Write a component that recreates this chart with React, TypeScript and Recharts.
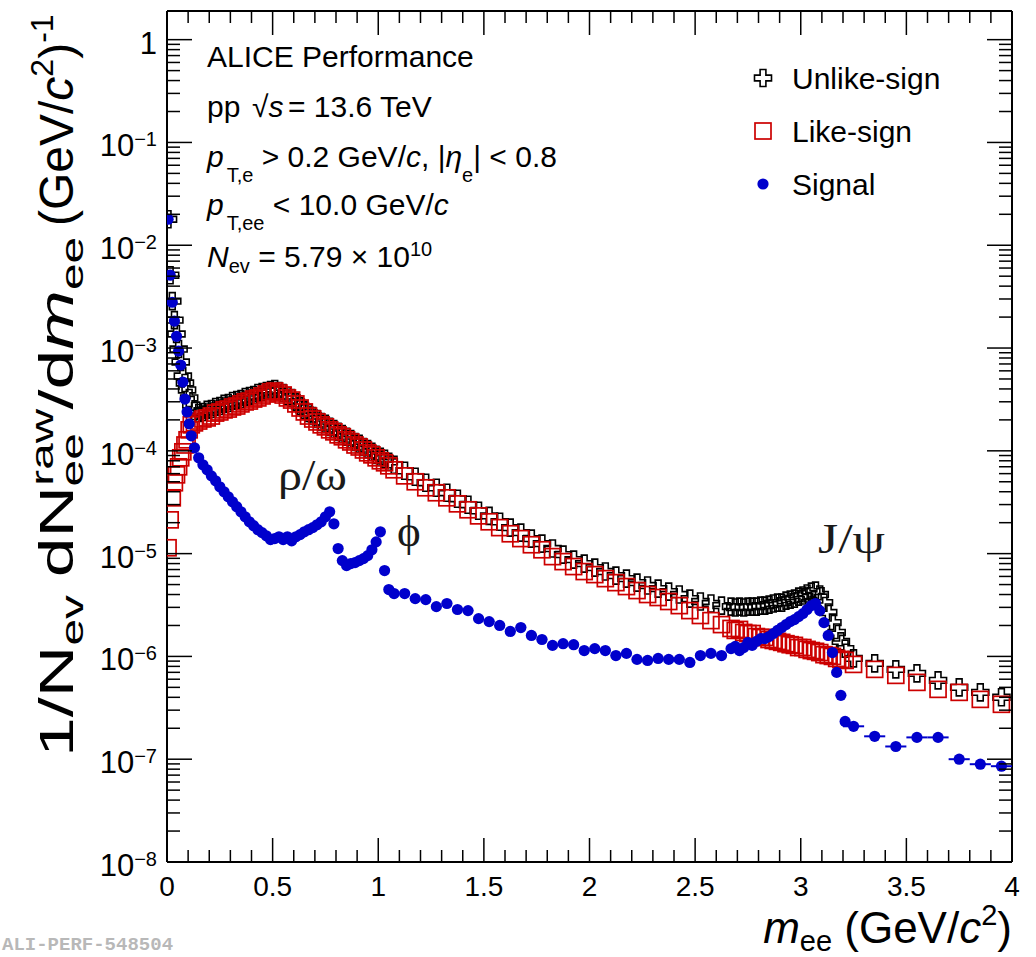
import React from 'react';
import { ScatterChart, Scatter, XAxis, YAxis, ErrorBar, ReferenceLine } from 'recharts';

// bin centres in GeV/c^2, the binning changes along the mass axis
const massLow = [0.005, 0.015, 0.025, 0.035, 0.045, 0.055, 0.065, 0.075, 0.085, 0.095, 0.105, 0.115];
const massRho = [
  0.13, 0.15, 0.17, 0.19, 0.21, 0.23, 0.25, 0.27, 0.29, 0.31, 0.33, 0.35, 0.37, 0.39, 0.41, 0.43,
  0.45, 0.47, 0.49, 0.51, 0.53, 0.55, 0.57, 0.59, 0.61, 0.63, 0.65, 0.67, 0.69, 0.71, 0.73, 0.75,
  0.77, 0.79, 0.81, 0.83, 0.85, 0.87, 0.89, 0.91, 0.93, 0.95, 0.97, 0.99, 1.01, 1.03, 1.05,
];
const massMid = [
  1.075, 1.125, 1.175, 1.225, 1.275, 1.325, 1.375, 1.425, 1.475, 1.525, 1.575, 1.625, 1.675, 1.725,
  1.775, 1.825, 1.875, 1.925, 1.975, 2.025, 2.075, 2.125, 2.175, 2.225, 2.275, 2.325, 2.375, 2.425,
  2.475, 2.525, 2.575, 2.625,
];
const massJpsi = [
  2.67, 2.69, 2.71, 2.73, 2.75, 2.77, 2.79, 2.81, 2.83, 2.85, 2.87, 2.89, 2.91, 2.93, 2.95, 2.97,
  2.99, 3.01, 3.03, 3.05, 3.07, 3.09, 3.11, 3.13, 3.15, 3.17, 3.19, 3.21,
];
const massHigh = [3.25, 3.35, 3.45, 3.55, 3.65, 3.75, 3.85, 3.95];
const binHalfWidth = [0.005, 0.01, 0.025, 0.01, 0.05];

const unlikeSign = [
  1.79e-2, 5.11e-3, 2.86e-3, 1.87e-3, 1.37e-3, 9.78e-4, 7.31e-4, 5.34e-4, 4.57e-4, 3.91e-4, 3.27e-4, 2.79e-4,
  2.44e-4, 2.33e-4, 2.39e-4, 2.5e-4, 2.55e-4, 2.67e-4, 2.73e-4, 2.86e-4, 2.92e-4, 3.05e-4, 3.12e-4, 3.19e-4,
  3.34e-4, 3.42e-4, 3.49e-4, 3.65e-4, 3.74e-4, 3.82e-4, 3.91e-4, 4.0e-4, 3.82e-4, 3.65e-4, 3.42e-4, 3.27e-4,
  2.99e-4, 2.73e-4, 2.5e-4, 2.33e-4, 2.18e-4, 2.04e-4, 1.91e-4, 1.83e-4, 1.71e-4, 1.63e-4, 1.53e-4, 1.46e-4,
  1.37e-4, 1.3e-4, 1.22e-4, 1.17e-4, 1.09e-4, 1.04e-4, 9.78e-5, 9.14e-5, 8.74e-5, 8.36e-5, 7.82e-5,
  7.31e-5, 6.39e-5, 5.59e-5, 4.89e-5, 4.37e-5, 3.91e-5, 3.42e-5, 2.99e-5, 2.61e-5, 2.33e-5, 2.04e-5, 1.79e-5,
  1.6e-5, 1.4e-5, 1.25e-5, 1.12e-5, 9.78e-6, 8.74e-6, 8.0e-6, 7.31e-6, 6.69e-6, 6.11e-6, 5.71e-6, 5.22e-6,
  4.89e-6, 4.57e-6, 4.27e-6, 4.0e-6, 3.65e-6, 3.42e-6, 3.27e-6, 3.12e-6,
  3.05e-6, 2.99e-6, 3.05e-6, 2.99e-6, 3.05e-6, 3.05e-6, 3.05e-6, 3.12e-6, 3.12e-6, 3.19e-6, 3.27e-6, 3.34e-6,
  3.34e-6, 3.49e-6, 3.57e-6, 3.65e-6, 3.82e-6, 3.91e-6, 4.09e-6, 4.27e-6, 4.37e-6, 4.0e-6, 3.34e-6, 2.67e-6,
  2.13e-6, 1.71e-6, 1.4e-6, 1.19e-6,
  9.56e-7, 8.55e-7, 7.48e-7, 6.84e-7, 5.84e-7, 5.0e-7, 4.47e-7, 4.0e-7,
];

const likeSign = [
  1.14e-5, 2.13e-5, 3.49e-5, 4.89e-5, 5.84e-5, 6.99e-5, 8.55e-5, 9.78e-5, 1.14e-4, 1.28e-4, 1.6e-4, 1.79e-4,
  1.87e-4, 1.95e-4, 2.04e-4, 2.09e-4, 2.18e-4, 2.33e-4, 2.39e-4, 2.5e-4, 2.55e-4, 2.67e-4, 2.73e-4, 2.86e-4,
  2.99e-4, 3.05e-4, 3.19e-4, 3.27e-4, 3.42e-4, 3.57e-4, 3.74e-4, 3.82e-4, 3.65e-4, 3.49e-4, 3.27e-4, 3.12e-4,
  2.86e-4, 2.61e-4, 2.39e-4, 2.18e-4, 2.04e-4, 1.91e-4, 1.79e-4, 1.71e-4, 1.6e-4, 1.53e-4, 1.43e-4, 1.37e-4,
  1.28e-4, 1.22e-4, 1.14e-4, 1.09e-4, 1.02e-4, 9.56e-5, 9.14e-5, 8.55e-5, 8.0e-5, 7.65e-5, 7.15e-5,
  6.54e-5, 5.71e-5, 5.0e-5, 4.37e-5, 3.91e-5, 3.49e-5, 3.05e-5, 2.67e-5, 2.33e-5, 2.04e-5, 1.79e-5, 1.56e-5,
  1.4e-5, 1.22e-5, 1.09e-5, 9.35e-6, 8.36e-6, 7.48e-6, 6.69e-6, 6.25e-6, 5.71e-6, 5.22e-6, 4.78e-6, 4.37e-6,
  4.0e-6, 3.74e-6, 3.42e-6, 3.12e-6, 2.79e-6, 2.5e-6, 2.23e-6, 2.04e-6,
  1.87e-6, 1.79e-6, 1.83e-6, 1.71e-6, 1.67e-6, 1.67e-6, 1.56e-6, 1.53e-6, 1.53e-6, 1.46e-6, 1.43e-6, 1.4e-6,
  1.37e-6, 1.33e-6, 1.3e-6, 1.28e-6, 1.22e-6, 1.22e-6, 1.17e-6, 1.14e-6, 1.12e-6, 1.09e-6, 1.04e-6, 1.02e-6,
  1.0e-6, 9.56e-7, 9.35e-7, 9.14e-7,
  8.36e-7, 7.48e-7, 6.54e-7, 5.59e-7, 4.78e-7, 4.47e-7, 3.82e-7, 3.42e-7,
];

const signal = [
  1.79e-2, 5.11e-3, 2.79e-3, 1.83e-3, 1.3e-3, 9.35e-4, 6.84e-4, 4.67e-4, 3.19e-4, 2.39e-4, 1.83e-4, 1.4e-4,
  1.07e-4, 8.55e-5, 7.31e-5, 6.54e-5, 5.71e-5, 5.11e-5, 4.47e-5, 4.0e-5, 3.57e-5, 3.19e-5, 2.86e-5, 2.55e-5,
  2.28e-5, 2.04e-5, 1.87e-5, 1.71e-5, 1.6e-5, 1.49e-5, 1.37e-5, 1.4e-5, 1.46e-5, 1.37e-5, 1.46e-5, 1.33e-5,
  1.46e-5, 1.53e-5, 1.63e-5, 1.71e-5, 1.79e-5, 1.91e-5, 2.04e-5, 2.28e-5, 2.55e-5, 1.95e-5, 1.12e-5, 8.55e-6,
  7.65e-6, 8.0e-6, 8.18e-6, 8.55e-6, 8.94e-6, 9.56e-6, 1.09e-5, 1.3e-5, 1.63e-5, 6.84e-6, 4.47e-6,
  4.09e-6, 4.09e-6, 3.65e-6, 3.57e-6, 3.05e-6, 3.27e-6, 2.86e-6, 2.79e-6, 2.33e-6, 2.18e-6, 2.0e-6, 1.75e-6,
  1.91e-6, 1.6e-6, 1.46e-6, 1.28e-6, 1.33e-6, 1.3e-6, 1.14e-6, 1.19e-6, 1.14e-6, 1.02e-6, 1.07e-6, 9.35e-7,
  9.14e-7, 9.56e-7, 9.35e-7, 9.35e-7, 8.74e-7, 1.02e-6, 1.07e-6, 1.02e-6,
  1.19e-6, 1.25e-6, 1.14e-6, 1.22e-6, 1.37e-6, 1.28e-6, 1.4e-6, 1.49e-6, 1.49e-6, 1.56e-6, 1.67e-6, 1.79e-6,
  1.91e-6, 2.04e-6, 2.18e-6, 2.28e-6, 2.44e-6, 2.61e-6, 2.86e-6, 3.12e-6, 3.27e-6, 2.79e-6, 2.13e-6, 1.6e-6,
  1.09e-6, 6.99e-7, 4.18e-7, 2.33e-7,
  2.09e-7, 1.67e-7, 1.33e-7, 1.63e-7, 1.63e-7, 1.0e-7, 8.94e-8, 8.55e-8,
];

const xMajorTicks = [0, 0.5, 1, 1.5, 2, 2.5, 3, 3.5, 4];
const xTickLabels = ['0', '0.5', '1', '1.5', '2', '2.5', '3', '3.5', '4'];
const yExponents = [-8, -7, -6, -5, -4, -3, -2, -1, 0];
const legendLabels = ['Unlike-sign', 'Like-sign', 'Signal'];

const W = 1036;
const H = 957;
const LEFT = 167;
const RIGHT = 1012;
const TOP = 11;
const BOTTOM = 862;
const Y_MAX = 1.9;
const SANS = '"Liberation Sans", Arial, Helvetica, sans-serif';
const SERIF = '"Liberation Serif", "DejaVu Serif", serif';
const BLUE = '#0000cc';
const RED = '#cc0000';

const mass: number[] = [];
const halfW: number[] = [];
[massLow, massRho, massMid, massJpsi, massHigh].forEach((r, i) =>
  r.forEach((m) => {
    mass.push(m);
    halfW.push(binHalfWidth[i]);
  })
);
const toPoints = (vals: number[]) => mass.map((m, i) => ({ m, v: vals[i], xErr: halfW[i] }));
const unlikeData = toPoints(unlikeSign);
const likeData = toPoints(likeSign);
const signalData = toPoints(signal);

// ticks: decades + 2..9 minors, 0.5 majors + 0.1 minors
const yTicks: number[] = [];
yExponents.forEach((e) => {
  yTicks.push(Math.pow(10, e));
  if (e < 0) for (let k = 2; k <= 9; k++) yTicks.push(k * Math.pow(10, e));
});
const xTicks: number[] = [...xMajorTicks];
for (let i = 1; i < 40; i++) if (i % 5 !== 0) xTicks.push(i / 10);

const crossPath = (cx: number, cy: number, a = 8.5, b = 2.9) =>
  `M${cx - b},${cy - a}H${cx + b}V${cy - b}H${cx + a}V${cy + b}H${cx + b}V${cy + a}H${cx - b}V${cy + b}H${cx - a}V${cy - b}H${cx - b}Z`;

const CrossShape = (p: any) => <path d={crossPath(p.cx, p.cy)} fill="none" stroke="#000" strokeWidth={1.6} />;
const SquareShape = (p: any) => (
  <rect x={p.cx - 8} y={p.cy - 8} width={16} height={16} fill="none" stroke={RED} strokeWidth={1.7} />
);
const DotShape = (p: any) => <circle cx={p.cx} cy={p.cy} r={5.6} fill={BLUE} />;
const legendShapes = [CrossShape, SquareShape, DotShape];

const YTick = (props: any) => {
  const { y, payload } = props;
  const lg = Math.log10(payload.value);
  const e = Math.round(lg);
  const major = Math.abs(lg - e) < 1e-6;
  const len = major ? 25 : 13;
  return (
    <g>
      <line x1={LEFT} x2={LEFT + len} y1={y} y2={y} stroke="#000" strokeWidth={1.5} />
      <line x1={RIGHT - len} x2={RIGHT} y1={y} y2={y} stroke="#000" strokeWidth={1.5} />
      {major && (
        <text x={157} y={y + 14} textAnchor="end" fontFamily={SANS} fontSize={31} fill="#000">
          {e === 0 ? '1' : '10'}
          {e !== 0 && (
            <tspan fontSize={20} dy={-10}>
              {'\u2212' + String(-e)}
            </tspan>
          )}
        </text>
      )}
    </g>
  );
};

const XTick = (props: any) => {
  const { x, payload } = props;
  const idx = xMajorTicks.indexOf(payload.value);
  const len = idx >= 0 ? 24 : 12;
  return (
    <g>
      <line x1={x} x2={x} y1={BOTTOM} y2={BOTTOM - len} stroke="#000" strokeWidth={1.5} />
      <line x1={x} x2={x} y1={TOP} y2={TOP + len} stroke="#000" strokeWidth={1.5} />
      {idx >= 0 && (
        <text x={x} y={BOTTOM + 34} textAnchor="middle" fontFamily={SANS} fontSize={28} fill="#000">
          {xTickLabels[idx]}
        </text>
      )}
    </g>
  );
};

const sub = { fontSize: 20 };

export default function App() {
  return (
    <div style={{ position: 'absolute', left: 0, top: 0, width: W, height: H, background: '#fff' }}>
      <ScatterChart
        width={W}
        height={H}
        margin={{ top: TOP, right: W - RIGHT, bottom: H - BOTTOM - 30, left: LEFT - 60 }}
      >
        <XAxis
          dataKey="m"
          type="number"
          domain={[0, 4]}
          ticks={xTicks}
          interval={0}
          height={30}
          tickLine={false}
          tick={<XTick />}
          axisLine={{ stroke: '#000', strokeWidth: 2 }}
          allowDataOverflow
        />
        <YAxis
          dataKey="v"
          type="number"
          scale="log"
          domain={[1e-8, Y_MAX]}
          ticks={yTicks}
          interval={0}
          width={60}
          tickLine={false}
          tick={<YTick />}
          axisLine={{ stroke: '#000', strokeWidth: 2 }}
          allowDataOverflow
        />
        <ReferenceLine x={4} stroke="#000" strokeWidth={2} />
        <ReferenceLine y={Y_MAX} stroke="#000" strokeWidth={2} />
        <Scatter name="Unlike-sign" data={unlikeData} shape={CrossShape} isAnimationActive={false} />
        <Scatter name="Like-sign" data={likeData} shape={SquareShape} isAnimationActive={false} />
        <Scatter name="Signal" data={signalData} shape={DotShape} fill={BLUE} isAnimationActive={false}>
          <ErrorBar dataKey="xErr" direction="x" width={0} stroke={BLUE} strokeWidth={2} />
        </Scatter>
      </ScatterChart>

      <svg
        width={W}
        height={H}
        style={{ position: 'absolute', left: 0, top: 0, pointerEvents: 'none' }}
      >
        {legendLabels.map((label, i) => {
          const Shape = legendShapes[i];
          return (
            <g key={label}>
              <Shape cx={763} cy={78 + i * 53} />
              <text x={792} y={89 + i * 53} fontFamily={SANS} fontSize={30} fill="#000">
                {label}
              </text>
            </g>
          );
        })}

        <g fontFamily={SANS} fontSize={30} fill="#000" style={{ whiteSpace: 'pre' }}>
          <text x={207} y={67}>ALICE Performance</text>
          <text x={207} y={117}>
            <tspan>pp </tspan>
            <tspan x={252}>{'\u221A'}</tspan>
            <tspan fontStyle="italic">s</tspan>
            <tspan x={288}>= 13.6 TeV</tspan>
          </text>
          <text x={207} y={167}>
            <tspan fontStyle="italic">p</tspan>
            <tspan {...sub} dx={3} dy={15}>T,e</tspan>
            <tspan dy={-15}>{' > 0.2 GeV/'}</tspan>
            <tspan fontStyle="italic">c</tspan>
            <tspan>{', |'}</tspan>
            <tspan fontStyle="italic">{'\u03B7'}</tspan>
            <tspan {...sub} dy={15}>e</tspan>
            <tspan dy={-15}>{'| < 0.8'}</tspan>
          </text>
          <text x={207} y={215}>
            <tspan fontStyle="italic">p</tspan>
            <tspan {...sub} dx={3} dy={15}>T,ee</tspan>
            <tspan dy={-15}>{' < 10.0 GeV/'}</tspan>
            <tspan fontStyle="italic">c</tspan>
          </text>
          <text x={207} y={267}>
            <tspan fontStyle="italic">N</tspan>
            <tspan {...sub} dy={6}>ev</tspan>
            <tspan dy={-6}>{' = 5.79 \u00D7 10'}</tspan>
            <tspan {...sub} dy={-11}>10</tspan>
          </text>
        </g>

        <g fontFamily={SERIF} fill="#1a1a1a">
          <text x={278} y={490} fontSize={45} textLength={69} lengthAdjust="spacingAndGlyphs">
            {'\u03C1/\u03C9'}
          </text>
          <text x={397} y={546} fontSize={45}>{'\u03D5'}</text>
          <text x={818} y={553} fontSize={42} textLength={67} lengthAdjust="spacingAndGlyphs">
            {'J/\u03C8'}
          </text>
        </g>

        <text
          transform="translate(73,757) rotate(-90)"
          fontFamily={SANS}
          fontSize={48}
          fill="#000"
          textLength={520}
          lengthAdjust="spacingAndGlyphs"
        >
          <tspan>1/N</tspan>
          <tspan fontSize={32} dy={10}>ev</tspan>
          <tspan dy={-10} dx={12}>dN</tspan>
          <tspan fontSize={32} dy={-20}>raw</tspan>
          <tspan fontSize={32} dx={-52} dy={30}>ee</tspan>
          <tspan dx={16} dy={-10}>/d</tspan>
          <tspan fontStyle="italic">m</tspan>
          <tspan fontSize={32} dy={10}>ee</tspan>
        </text>
        <text transform="translate(73,226) rotate(-90)" fontFamily={SANS} fontSize={48} fill="#000">
          <tspan>(GeV/</tspan>
          <tspan fontStyle="italic">c</tspan>
          <tspan fontSize={32} dy={-20}>2</tspan>
          <tspan dy={20}>)</tspan>
          <tspan fontSize={32} dy={-20}>-1</tspan>
        </text>

        <text x={RIGHT} y={943} textAnchor="end" fontFamily={SANS} fontSize={44} fill="#000" style={{ whiteSpace: 'pre' }}>
          <tspan fontStyle="italic">m</tspan>
          <tspan fontSize={29} dy={8}>ee</tspan>
          <tspan dy={-8}> (GeV/</tspan>
          <tspan fontStyle="italic">c</tspan>
          <tspan fontSize={29} dy={-18}>2</tspan>
          <tspan dy={18}>)</tspan>
        </text>

        <text x={2} y={950} fontFamily={'"Liberation Mono", "DejaVu Sans Mono", monospace'} fontWeight="bold" fontSize={19} fill="#b8b8b8">
          ALI-PERF-548504
        </text>
      </svg>
    </div>
  );
}
